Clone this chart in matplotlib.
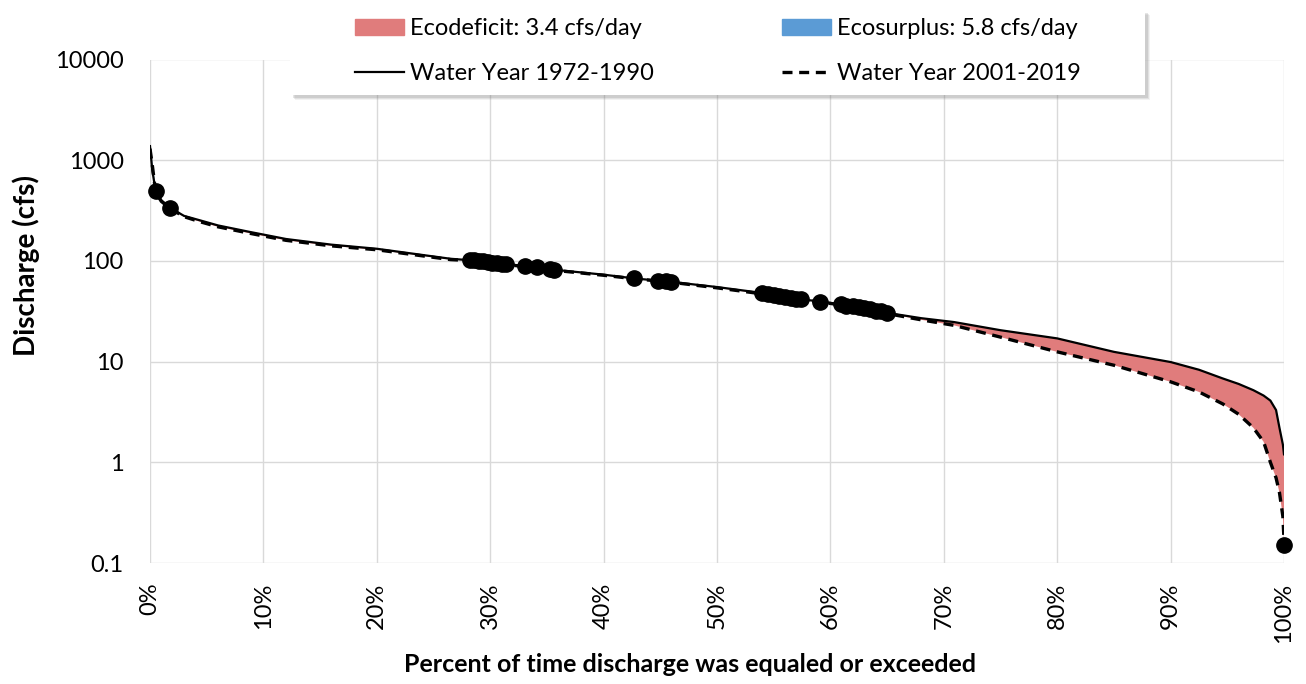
import matplotlib
matplotlib.use("Agg")
import matplotlib.pyplot as plt
from matplotlib.patches import Patch, Rectangle
from matplotlib.lines import Line2D
from matplotlib.ticker import FixedLocator, FuncFormatter

# percent of time exceeded (shared by both curves)
pct = [0, 0.2, 0.5, 1, 1.8, 3, 4.4, 6, 8.8, 12,
       16, 20, 26.5, 28, 31.5, 35.5, 40, 42.7, 45.9, 50,
       54, 57.5, 59.1, 61, 65, 68, 70.9, 75, 80, 85,
       90, 92.5, 94.6, 96, 97.3, 98.2, 98.8, 99.3, 99.6, 99.9,
       100]
q_1972_1990 = [1380, 800, 490, 400, 335, 280, 253, 225, 194, 165,
               145, 132, 105, 102, 93, 82, 73, 67, 62, 55,
               48, 41.5, 39.5, 37, 30.5, 27, 24.7, 20.5, 17, 12.5,
               9.9, 8.3, 6.8, 6.0, 5.2, 4.6, 4.1, 3.3, 2.2, 1.5,
               1.2]
q_2001_2019 = [1300, 900, 480, 390, 330, 275, 245, 218, 188, 160,
               141, 129, 103, 101, 92, 81, 72, 66.5, 61.5, 54,
               47, 41, 39, 36.5, 30, 26, 22.9, 17.5, 12.5, 9.2,
               6.3, 5.0, 3.8, 3.0, 2.2, 1.6, 1.0, 0.7, 0.5, 0.29,
               0.17]

# highlighted points
dot_pct = [0.5, 1.8, 28.2, 28.6, 29.0, 29.4, 29.8, 30.2, 30.6, 31.0, 31.4,
           33.1, 34.1, 35.3, 35.6, 42.7, 44.8, 45.5, 45.9,
           54.0, 54.5, 55.0, 55.5, 56.0, 56.5, 57.0, 57.4, 59.1,
           60.9, 61.4, 62.0, 62.5, 63.0, 63.5, 64.0, 64.5, 65.0, 100]
dot_q = [490, 335, 102, 101, 100, 99, 98, 96, 95, 94, 93,
         88, 86, 83, 82, 67, 63, 62.5, 62,
         48, 47, 46, 45, 44, 43, 42, 41.5, 39.5,
         37, 36, 35.5, 35, 34, 33, 32, 31.5, 30.5, 0.15]

deficit_label = "Ecodeficit: 3.4 cfs/day"
surplus_label = "Ecosurplus: 5.8 cfs/day"
old_label = "Water Year 1972-1990"
new_label = "Water Year 2001-2019"

red = "#E07C7C"
blue = "#5B9BD5"

plt.rcParams["font.family"] = ["Lato", "DejaVu Sans"]

W, H = 1306, 684
fig = plt.figure(figsize=(W / 100, H / 100), dpi=100)
ax = fig.add_axes([150 / W, 1 - 563 / H, 1134 / W, 503.5 / H])

ax.fill_between(pct, q_2001_2019, q_1972_1990,
                where=[a >= b for a, b in zip(q_1972_1990, q_2001_2019)],
                interpolate=True, color=red, linewidth=0, zorder=2)
ax.fill_between(pct, q_2001_2019, q_1972_1990,
                where=[a <= b for a, b in zip(q_1972_1990, q_2001_2019)],
                interpolate=True, color=blue, linewidth=0, zorder=2)
ax.plot(pct, q_1972_1990, color="black", linewidth=1.6, zorder=3)
ax.plot(pct, q_2001_2019, color="black", linewidth=2.4,
        dashes=(3, 2), zorder=3)
ax.plot(dot_pct, dot_q, linestyle="none", marker="o", markersize=11,
        color="black", zorder=4, clip_on=False)

ax.set_yscale("log")
ax.set_ylim(0.1, 10000)
ax.set_xlim(0, 100)
ax.xaxis.set_major_locator(FixedLocator(range(0, 101, 10)))
ax.xaxis.set_major_formatter(FuncFormatter(lambda v, p: f"{v:.0f}%"))
ax.yaxis.set_major_locator(FixedLocator([0.1, 1, 10, 100, 1000, 10000]))
ax.yaxis.set_major_formatter(FuncFormatter(lambda v, p: f"{v:g}"))
ax.yaxis.set_minor_locator(FixedLocator([]))
ax.tick_params(axis="y", length=0, pad=19, labelsize=17)
ax.tick_params(axis="x", length=0, pad=14, labelsize=17, labelrotation=90)

ax.grid(True, color="#d9d9d9", linewidth=1)
ax.set_axisbelow(True)
for s in ax.spines.values():
    s.set_visible(False)

fig.text(690 / W, 1 - 664 / H, "Percent of time discharge was equaled or exceeded",
         fontsize=18, fontweight="bold", ha="center", va="center")
fig.text(26 / W, 1 - 266 / H, "Discharge (cfs)", fontsize=20, fontweight="bold",
         rotation=90, ha="center", va="center")

# legend box with a soft shadow, drawn in figure pixels
box_x0, box_y0, box_w, box_h = 290, 10, 855, 85
for off, a in [(5, 0.10), (4, 0.15), (3, 0.2)]:
    fig.patches.append(Rectangle(((box_x0 + off) / W, 1 - (box_y0 + box_h + off) / H),
                                 box_w / W, box_h / H, transform=fig.transFigure,
                                 facecolor="gray", edgecolor="none", alpha=a, zorder=5))
fig.patches.append(Rectangle((box_x0 / W, 1 - (box_y0 + box_h) / H), box_w / W, box_h / H,
                             transform=fig.transFigure, facecolor="white",
                             edgecolor="none", zorder=6))

handles = [Patch(color=red), Line2D([], [], color="black", linewidth=1.6),
           Patch(color=blue), Line2D([], [], color="black", linewidth=2.4, dashes=(3, 2))]
labels = [deficit_label, old_label, surplus_label, new_label]
leg = fig.legend(handles, labels, ncol=2, loc="center",
                 bbox_to_anchor=(718 / W, 1 - 51 / H),
                 fontsize=17, frameon=False, handlelength=2.1,
                 handletextpad=0.25, columnspacing=5.4, labelspacing=1.0,
                 borderpad=0.2)
leg.set_zorder(7)

fig.savefig("out.png", dpi=100)
